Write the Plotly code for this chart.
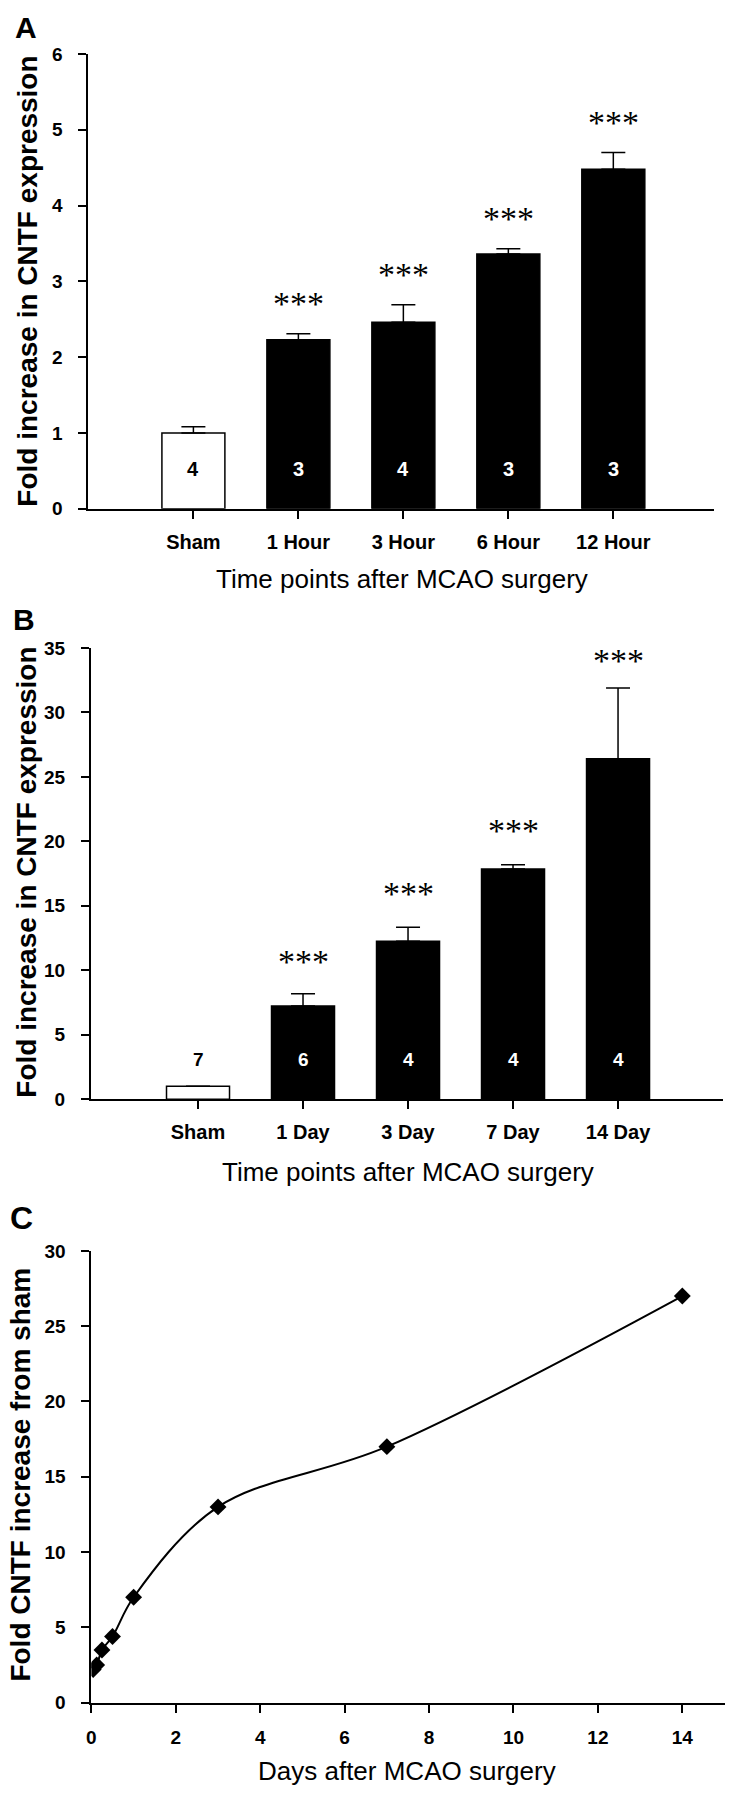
import plotly.graph_objects as go

W, H = 729, 1800

# ---------------- data ----------------
# Panel A
a_categories = ["Sham", "1 Hour", "3 Hour", "6 Hour", "12 Hour"]
a_means = [1.00, 2.23, 2.46, 3.36, 4.48]
a_sem = [0.08, 0.08, 0.23, 0.07, 0.22]
a_n = ["4", "3", "4", "3", "3"]
a_sig = ["", "***", "***", "***", "***"]
a_yticks = [0, 1, 2, 3, 4, 5, 6]

# Panel B
b_categories = ["Sham", "1 Day", "3 Day", "7 Day", "14 Day"]
b_means = [1.00, 7.22, 12.24, 17.86, 26.41]
b_sem = [0.0, 0.96, 1.10, 0.33, 5.49]
b_n = ["7", "6", "4", "4", "4"]
b_sig = ["", "***", "***", "***", "***"]
b_yticks = [0, 5, 10, 15, 20, 25, 30, 35]

# Panel C
c_days = [0.0417, 0.125, 0.25, 0.5, 1, 3, 7, 14]
c_fold = [2.2, 2.5, 3.5, 4.4, 7.0, 13.0, 17.0, 27.0]
c_xticks = [0, 2, 4, 6, 8, 10, 12, 14]
c_yticks = [0, 5, 10, 15, 20, 25, 30]

SANS = "Liberation Sans, Arial, sans-serif"
SERIF = "Liberation Serif, Times New Roman, serif"


def px(x):
    return x / W


def py(y):
    return 1 - y / H


fig = go.Figure()

bar_colors = ["white", "black", "black", "black", "black"]

fig.add_trace(go.Bar(
    x=a_categories, y=a_means, width=0.6,
    marker=dict(color=bar_colors, line=dict(color="black", width=1.5)),
    error_y=dict(type="data", symmetric=False, array=a_sem, arrayminus=[0] * len(a_sem),
                 color="black", thickness=1.5, width=12),
    xaxis="x", yaxis="y", showlegend=False, hoverinfo="skip"))

fig.add_trace(go.Bar(
    x=b_categories, y=b_means, width=0.6,
    marker=dict(color=bar_colors, line=dict(color="black", width=1.5)),
    error_y=dict(type="data", symmetric=False, array=b_sem, arrayminus=[0] * len(b_sem),
                 color="black", thickness=1.5, width=12),
    xaxis="x2", yaxis="y2", showlegend=False, hoverinfo="skip"))

fig.add_trace(go.Scatter(
    x=c_days, y=c_fold, mode="lines+markers",
    line=dict(color="black", width=2, shape="spline", smoothing=1.0),
    marker=dict(symbol="diamond", size=13, color="black"),
    xaxis="x3", yaxis="y3", showlegend=False, hoverinfo="skip"))

axis_common = dict(showline=True, linecolor="black", linewidth=2, ticks="outside",
                   ticklen=8, tickwidth=2, tickcolor="black", showgrid=False,
                   zeroline=False, mirror=False)

tick_y_font = dict(family=SANS, size=19, color="black", weight="bold")
tick_x_font = dict(family=SANS, size=20, color="black", weight="bold")

fig.update_layout(
    width=W, height=H, margin=dict(l=0, r=0, t=0, b=0),
    paper_bgcolor="white", plot_bgcolor="white", bargap=0.4,
    xaxis=dict(domain=[px(84), px(714)], anchor="y", type="category",
               categoryorder="array", categoryarray=a_categories,
               range=[-1.0, 4.96], tickfont=tick_x_font, ticklabelstandoff=6,
               **axis_common),
    yaxis=dict(domain=[py(504.6), py(44.5)], anchor="x", range=[0, 6],
               tickvals=a_yticks, tickfont=tick_y_font, ticklabelstandoff=12,
               **axis_common),
    xaxis2=dict(domain=[px(86.5), px(723)], anchor="y2", type="category",
                categoryorder="array", categoryarray=b_categories,
                range=[-1.02, 5.0], tickfont=tick_x_font, ticklabelstandoff=6,
                **axis_common),
    yaxis2=dict(domain=[py(1102), py(645.5)], anchor="x2", range=[0, 35],
                tickvals=b_yticks, tickfont=tick_y_font, ticklabelstandoff=12,
                **axis_common),
    xaxis3=dict(domain=[px(87), px(724.5)], anchor="y3", range=[0, 15],
                tickvals=c_xticks, tickfont=dict(family=SANS, size=19, color="black", weight="bold"),
                ticklabelstandoff=8, **axis_common),
    yaxis3=dict(domain=[py(1712.7), py(1255.5)], anchor="x3", range=[0, 30],
                tickvals=c_yticks, tickfont=tick_y_font, ticklabelstandoff=12,
                **axis_common),
)

ann = []

# significance stars and n labels
for i, cat in enumerate(a_categories):
    if a_sig[i]:
        ann.append(dict(x=cat, y=a_means[i] + a_sem[i], xref="x", yref="y",
                        text=a_sig[i], showarrow=False, yanchor="middle", yshift=30,
                        font=dict(family=SERIF, size=34, color="black")))
    ann.append(dict(x=cat, y=0, xref="x", yref="y", text=a_n[i], showarrow=False,
                    yanchor="middle", yshift=40,
                    font=dict(family=SANS, size=20, weight="bold",
                              color="black" if bar_colors[i] == "white" else "white")))

b_gaps = [32, 32, 34, 34, 27]
for i, cat in enumerate(b_categories):
    if b_sig[i]:
        ann.append(dict(x=cat, y=b_means[i] + b_sem[i], xref="x2", yref="y2",
                        text=b_sig[i], showarrow=False, yanchor="middle", yshift=b_gaps[i],
                        font=dict(family=SERIF, size=34, color="black")))
    ann.append(dict(x=cat, y=0, xref="x2", yref="y2", text=b_n[i], showarrow=False,
                    yanchor="middle", yshift=40,
                    font=dict(family=SANS, size=19, weight="bold",
                              color="black" if bar_colors[i] == "white" else "white")))

# panel letters
for letter, (lx, ly, sz) in {"A": (21, 18, 30), "B": (19, 617, 30), "C": (17, 1222, 32)}.items():
    ann.append(dict(x=px(lx), y=py(ly), xref="paper", yref="paper", text=letter,
                    showarrow=False, xanchor="center", yanchor="middle",
                    font=dict(family=SANS, size=sz, weight="bold", color="black")))

# axis titles
ytitle_font = dict(family=SANS, size=28, weight="bold", color="black")
xtitle_font = dict(family=SANS, size=26, color="black")
ann += [
    dict(x=px(23), y=py(274), xref="paper", yref="paper", text="Fold increase in CNTF expression",
         textangle=-90, showarrow=False, xanchor="center", yanchor="middle", font=ytitle_font),
    dict(x=px(400), y=py(576), xref="paper", yref="paper", text="Time points after MCAO surgery",
         showarrow=False, xanchor="center", yanchor="middle", font=xtitle_font),
    dict(x=px(22), y=py(872), xref="paper", yref="paper", text="Fold increase in CNTF expression",
         textangle=-90, showarrow=False, xanchor="center", yanchor="middle", font=ytitle_font),
    dict(x=px(406), y=py(1176), xref="paper", yref="paper", text="Time points after MCAO surgery",
         showarrow=False, xanchor="center", yanchor="middle", font=xtitle_font),
    dict(x=px(16), y=py(1482), xref="paper", yref="paper", text="Fold CNTF increase from sham",
         textangle=-90, showarrow=False, xanchor="center", yanchor="middle", font=ytitle_font),
    dict(x=px(405), y=py(1782), xref="paper", yref="paper", text="Days after MCAO surgery",
         showarrow=False, xanchor="center", yanchor="middle", font=xtitle_font),
]

fig.update_layout(annotations=ann)

fig.write_html("out.html", config={"displayModeBar": False},
               post_script="document.body.style.margin='0';document.body.style.padding='0';")
